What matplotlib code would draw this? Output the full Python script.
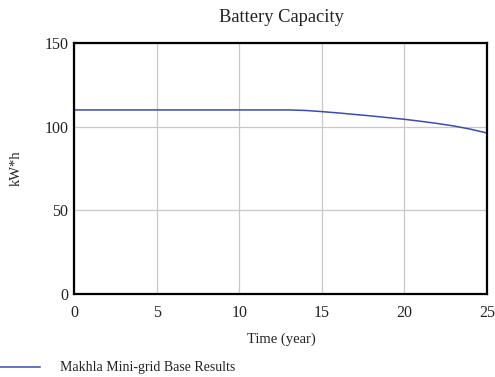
import matplotlib
matplotlib.use("Agg")
import matplotlib.pyplot as plt

years = [0, 5, 10, 12, 13, 14, 15, 16, 17, 18, 19, 20, 21, 22, 23, 24, 25]
capacity = [110, 110, 110, 110, 110, 109.7, 109.0, 108.2, 107.3, 106.4, 105.4, 104.4,
            103.2, 101.9, 100.4, 98.5, 96.2]
x_ticks = [0, 5, 10, 15, 20, 25]
y_ticks = [0, 50, 100, 150]
series_name = "Makhla Mini-grid Base Results"

plt.rcParams['font.family'] = ['Liberation Serif', 'DejaVu Serif']

fig = plt.figure(figsize=(4.95, 3.77), dpi=100)
ax = fig.add_axes([74 / 495, 1 - 294 / 377, (487 - 74) / 495, (294 - 43) / 377])

line, = ax.plot(years, capacity, color='#3b4cb0', lw=1.1)
ax.set_xlim(0, 25)
ax.set_ylim(0, 150)
ax.set_xticks(x_ticks)
ax.set_yticks(y_ticks)
ax.grid(True, color='#c8c8c8', lw=0.9)
ax.tick_params(length=0, labelsize=11.5, colors='#222222')
ax.tick_params(axis='x', pad=8)
ax.tick_params(axis='y', pad=4)
for s in ax.spines.values():
    s.set_linewidth(1.6)
    s.set_color('black')

fig.text(281 / 495, 1 - 18 / 377, "Battery Capacity", fontsize=13.3, ha='center',
         va='center', color='#222222')
fig.text(281 / 495, 1 - 339 / 377, "Time (year)", fontsize=10.5, ha='center',
         va='center', color='#222222')
fig.text(16 / 495, 1 - 168 / 377, "kW*h", fontsize=10.5, ha='center', va='center',
         rotation=90, color='#222222')

fig.lines.append(plt.Line2D([0, 40 / 495], [1 - 367 / 377] * 2, color='#3b4cb0', lw=1.1,
                            transform=fig.transFigure))
fig.text(60 / 495, 1 - 367 / 377, series_name, fontsize=10, va='center', ha='left',
         color='#222222')

fig.savefig("out.png", dpi=100)
